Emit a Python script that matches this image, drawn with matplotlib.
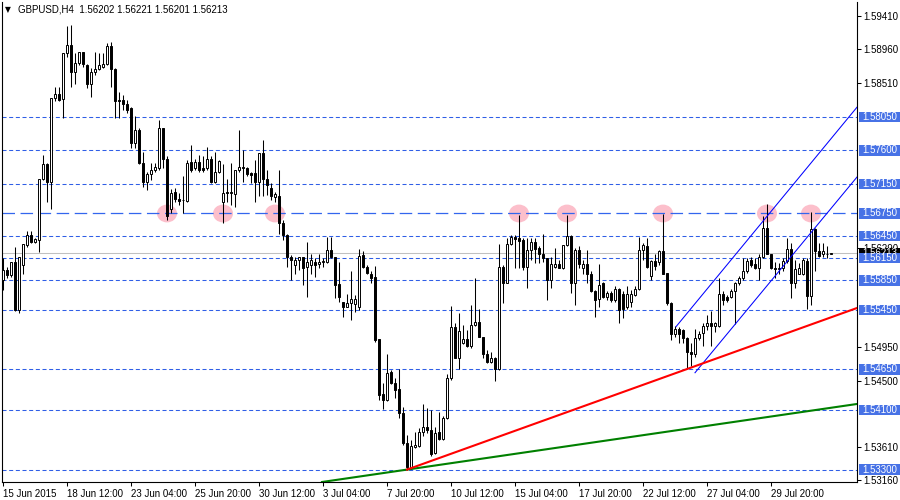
import matplotlib
matplotlib.use("Agg")
import matplotlib.pyplot as plt
import numpy as np
from matplotlib.patches import Ellipse, Rectangle
from matplotlib.transforms import blended_transform_factory

plt.rcParams['font.family'] = ['Liberation Sans', 'DejaVu Sans']
plt.rcParams['lines.scale_dashes'] = False

# GBPUSD H4 candles, 15 Jun 20:00 .. 31 Jul 2015
opens = [
    1.5585, 1.5599, 1.5592, 1.5610, 1.5545, 1.5606, 1.5632, 1.5646, 1.5637, 1.5639,
    1.5721, 1.5742, 1.5718, 1.5830, 1.5836, 1.5829, 1.5891, 1.5902, 1.5865, 1.5878,
    1.5893, 1.5875, 1.5850, 1.5865, 1.5869, 1.5872, 1.5877, 1.5900, 1.5869, 1.5828,
    1.5828, 1.5822, 1.5817, 1.5770, 1.5788, 1.5743, 1.5718, 1.5728, 1.5734, 1.5736,
    1.5790, 1.5749, 1.5681, 1.5704, 1.5694, 1.5693, 1.5692, 1.5745, 1.5736, 1.5745,
    1.5736, 1.5736, 1.5749, 1.5717, 1.5731, 1.5691, 1.5704, 1.5702, 1.5701, 1.5733,
    1.5738, 1.5736, 1.5730, 1.5729, 1.5718, 1.5756, 1.5722, 1.5709, 1.5697, 1.5699,
    1.5662, 1.5646, 1.5616, 1.5606, 1.5612, 1.5616, 1.5603, 1.5606, 1.5609, 1.5607,
    1.5610, 1.5610, 1.5626, 1.5617, 1.5580, 1.5556, 1.5549, 1.5555, 1.5553, 1.5549,
    1.5619, 1.5603, 1.5594, 1.5589, 1.5506, 1.5432, 1.5424, 1.5462, 1.5447, 1.5439,
    1.5406, 1.5366, 1.5334, 1.5361, 1.5362, 1.5380, 1.5387, 1.5384, 1.5353, 1.5380,
    1.5371, 1.5399, 1.5453, 1.5522, 1.5481, 1.5501, 1.5506, 1.5496, 1.5525, 1.5529,
    1.5509, 1.5486, 1.5475, 1.5481, 1.5465, 1.5603, 1.5582, 1.5634, 1.5643, 1.5642,
    1.5639, 1.5603, 1.5626, 1.5636, 1.5628, 1.5621, 1.5615, 1.5585, 1.5603, 1.5607,
    1.5601, 1.5633, 1.5645, 1.5581, 1.5626, 1.5601, 1.5607, 1.5594, 1.5570, 1.5560,
    1.5581, 1.5562, 1.5568, 1.5558, 1.5573, 1.5567, 1.5549, 1.5556, 1.5565, 1.5573,
    1.5626, 1.5631, 1.5591, 1.5611, 1.5610, 1.5624, 1.5595, 1.5554, 1.5513, 1.5519,
    1.5518, 1.5507, 1.5489, 1.5486, 1.5507, 1.5514, 1.5523, 1.5528, 1.5523, 1.5523,
    1.5567, 1.5563, 1.5562, 1.5570, 1.5581, 1.5588, 1.5597, 1.5612, 1.5607, 1.5602,
    1.5616, 1.5655, 1.5621, 1.5601, 1.5600, 1.5601, 1.5611, 1.5627, 1.5582, 1.5594,
    1.5594, 1.5611, 1.5564, 1.5654, 1.5624, 1.5621, 1.5621, 1.56202]
highs = [
    1.5615, 1.5603, 1.5610, 1.5630, 1.5616, 1.5634, 1.5651, 1.5651, 1.5642, 1.5721,
    1.5754, 1.5743, 1.5830, 1.5846, 1.5846, 1.5891, 1.5928, 1.5929, 1.5891, 1.5892,
    1.5893, 1.5877, 1.5871, 1.5893, 1.5891, 1.5891, 1.5904, 1.5906, 1.5871, 1.5839,
    1.5835, 1.5828, 1.5818, 1.5806, 1.5790, 1.5758, 1.5731, 1.5743, 1.5743, 1.5801,
    1.5790, 1.5752, 1.5708, 1.5709, 1.5702, 1.5725, 1.5747, 1.5767, 1.5748, 1.5754,
    1.5752, 1.5765, 1.5752, 1.5758, 1.5747, 1.5742, 1.5721, 1.5743, 1.5733, 1.5787,
    1.5760, 1.5738, 1.5731, 1.5747, 1.5757, 1.5774, 1.5733, 1.5716, 1.5704, 1.5733,
    1.5666, 1.5648, 1.5619, 1.5617, 1.5617, 1.5617, 1.5637, 1.5621, 1.5615, 1.5621,
    1.5615, 1.5643, 1.5643, 1.5617, 1.5610, 1.5556, 1.5567, 1.5597, 1.5565, 1.5627,
    1.5625, 1.5606, 1.5597, 1.5604, 1.5506, 1.5446, 1.5486, 1.5464, 1.5453, 1.5466,
    1.5414, 1.5377, 1.5370, 1.5381, 1.5386, 1.5419, 1.5413, 1.5410, 1.5388, 1.5408,
    1.5402, 1.5459, 1.5550, 1.5527, 1.5541, 1.5525, 1.5518, 1.5552, 1.5588, 1.5547,
    1.5509, 1.5491, 1.5489, 1.5482, 1.5634, 1.5606, 1.5642, 1.5646, 1.5646, 1.5673,
    1.5642, 1.5642, 1.5642, 1.5642, 1.5631, 1.5648, 1.5615, 1.5617, 1.5628, 1.5612,
    1.5633, 1.5673, 1.5646, 1.5628, 1.5631, 1.5612, 1.5626, 1.5597, 1.5572, 1.5607,
    1.5583, 1.5570, 1.5570, 1.5577, 1.5574, 1.5570, 1.5577, 1.5572, 1.5577, 1.5644,
    1.5635, 1.5642, 1.5612, 1.5621, 1.5626, 1.5674, 1.5595, 1.5556, 1.5523, 1.5522,
    1.5520, 1.5508, 1.5500, 1.5519, 1.5517, 1.5527, 1.5538, 1.5543, 1.5529, 1.5588,
    1.5570, 1.5565, 1.5573, 1.5583, 1.5591, 1.5615, 1.5615, 1.5616, 1.5615, 1.5620,
    1.5671, 1.5688, 1.5621, 1.5610, 1.5608, 1.5615, 1.5642, 1.5635, 1.5612, 1.5608,
    1.5615, 1.5615, 1.5677, 1.5656, 1.5635, 1.5635, 1.5631, 1.56221]
lows = [
    1.5572, 1.5588, 1.5590, 1.5543, 1.5541, 1.5594, 1.5630, 1.5635, 1.5635, 1.5623,
    1.5720, 1.5690, 1.5681, 1.5826, 1.5826, 1.5803, 1.5886, 1.5846, 1.5850, 1.5875,
    1.5873, 1.5844, 1.5832, 1.5862, 1.5868, 1.5871, 1.5875, 1.5846, 1.5803, 1.5803,
    1.5814, 1.5811, 1.5763, 1.5763, 1.5741, 1.5711, 1.5707, 1.5720, 1.5731, 1.5734,
    1.5736, 1.5666, 1.5675, 1.5691, 1.5687, 1.5675, 1.5691, 1.5731, 1.5733, 1.5731,
    1.5731, 1.5733, 1.5716, 1.5716, 1.5729, 1.5662, 1.5691, 1.5687, 1.5684, 1.5731,
    1.5718, 1.5725, 1.5716, 1.5691, 1.5698, 1.5698, 1.5700, 1.5693, 1.5691, 1.5648,
    1.5639, 1.5603, 1.5585, 1.5594, 1.5599, 1.5579, 1.5563, 1.5594, 1.5590, 1.5601,
    1.5603, 1.5608, 1.5615, 1.5561, 1.5556, 1.5536, 1.5549, 1.5531, 1.5542, 1.5545,
    1.5601, 1.5594, 1.5582, 1.5502, 1.5424, 1.5411, 1.5423, 1.5445, 1.5426, 1.5399,
    1.5363, 1.5330, 1.5332, 1.5359, 1.5361, 1.5375, 1.5379, 1.5348, 1.5351, 1.5370,
    1.5370, 1.5398, 1.5451, 1.5480, 1.5465, 1.5499, 1.5495, 1.5494, 1.5523, 1.5508,
    1.5480, 1.5474, 1.5473, 1.5450, 1.5464, 1.5554, 1.5581, 1.5633, 1.5601, 1.5601,
    1.5599, 1.5574, 1.5612, 1.5608, 1.5608, 1.5610, 1.5559, 1.5574, 1.5602, 1.5602,
    1.5600, 1.5631, 1.5568, 1.5552, 1.5602, 1.5594, 1.5581, 1.5569, 1.5536, 1.5549,
    1.5561, 1.5559, 1.5556, 1.5556, 1.5527, 1.5534, 1.5547, 1.5549, 1.5564, 1.5572,
    1.5612, 1.5601, 1.5585, 1.5599, 1.5606, 1.5593, 1.5552, 1.5504, 1.5509, 1.5500,
    1.5500, 1.5466, 1.5469, 1.5482, 1.5505, 1.5496, 1.5518, 1.5496, 1.5516, 1.5522,
    1.5552, 1.5556, 1.5561, 1.5526, 1.5579, 1.5586, 1.5595, 1.5603, 1.5600, 1.5586,
    1.5615, 1.5620, 1.5600, 1.5588, 1.5594, 1.5598, 1.5608, 1.5561, 1.5574, 1.5593,
    1.5592, 1.5547, 1.5552, 1.5597, 1.5616, 1.5616, 1.5615, 1.56201]
closes = [
    1.5599, 1.5592, 1.5609, 1.5545, 1.5616, 1.5634, 1.5646, 1.5637, 1.5640, 1.5721,
    1.5742, 1.5718, 1.5830, 1.5836, 1.5828, 1.5891, 1.5902, 1.5865, 1.5878, 1.5892,
    1.5877, 1.5850, 1.5866, 1.5869, 1.5875, 1.5877, 1.5900, 1.5869, 1.5826, 1.5826,
    1.5822, 1.5815, 1.5770, 1.5788, 1.5743, 1.5718, 1.5728, 1.5734, 1.5738, 1.5790,
    1.5749, 1.5671, 1.5703, 1.5694, 1.5692, 1.5693, 1.5743, 1.5734, 1.5745, 1.5733,
    1.5733, 1.5749, 1.5718, 1.5731, 1.5746, 1.5703, 1.5702, 1.5704, 1.5733, 1.5738,
    1.5736, 1.5728, 1.5727, 1.5718, 1.5756, 1.5722, 1.5713, 1.5698, 1.5701, 1.5662,
    1.5646, 1.5616, 1.5613, 1.5613, 1.5616, 1.5601, 1.5610, 1.5612, 1.5606, 1.5609,
    1.5611, 1.5626, 1.5617, 1.5579, 1.5563, 1.5549, 1.5555, 1.5560, 1.5560, 1.5618,
    1.5603, 1.5595, 1.5588, 1.5504, 1.5431, 1.5424, 1.5460, 1.5446, 1.5437, 1.5406,
    1.5366, 1.5334, 1.5362, 1.5363, 1.5381, 1.5387, 1.5384, 1.5351, 1.5379, 1.5371,
    1.5399, 1.5454, 1.5522, 1.5481, 1.5517, 1.5506, 1.5496, 1.5525, 1.5529, 1.5509,
    1.5486, 1.5475, 1.5481, 1.5465, 1.5603, 1.5582, 1.5634, 1.5643, 1.5640, 1.5638,
    1.5603, 1.5626, 1.5636, 1.5627, 1.5621, 1.5615, 1.5585, 1.5607, 1.5607, 1.5602,
    1.5633, 1.5645, 1.5581, 1.5626, 1.5607, 1.5607, 1.5594, 1.5570, 1.5559, 1.5579,
    1.5563, 1.5568, 1.5558, 1.5573, 1.5545, 1.5546, 1.5567, 1.5567, 1.5573, 1.5626,
    1.5633, 1.5603, 1.5611, 1.5604, 1.5624, 1.5594, 1.5554, 1.5512, 1.5519, 1.5512,
    1.5507, 1.5489, 1.5486, 1.5507, 1.5512, 1.5523, 1.5528, 1.5523, 1.5527, 1.5567,
    1.5559, 1.5559, 1.5571, 1.5582, 1.5588, 1.5598, 1.5611, 1.5606, 1.5601, 1.5616,
    1.5655, 1.5621, 1.5601, 1.5600, 1.5602, 1.5611, 1.5627, 1.5582, 1.5600, 1.5601,
    1.5612, 1.5564, 1.5654, 1.5624, 1.5618, 1.5624, 1.5620, 1.56213]

# time axis labels (bar index -> label)
time_ticks = [0, 16, 32, 48, 64, 80, 96, 112, 128, 144, 160, 176, 192]
time_labels = ['15 Jun 2015', '18 Jun 12:00', '23 Jun 04:00', '25 Jun 20:00',
               '30 Jun 12:00', '3 Jul 04:00', '7 Jul 20:00', '10 Jul 12:00',
               '15 Jul 04:00', '17 Jul 20:00', '22 Jul 12:00', '27 Jul 04:00',
               '29 Jul 20:00']

# price scale labels that are not covered by a line label
price_ticks = [1.59410, 1.58960, 1.58510, 1.56290, 1.54950, 1.54500, 1.53610, 1.53160]

# horizontal levels
dot_levels = [1.58050, 1.57600, 1.57150, 1.56450, 1.56150, 1.55850,
              1.55450, 1.54650, 1.54100, 1.53300]
key_level = 1.56750
bid = 1.56213
# bars touching the key level (marked with pink ellipses)
touch_bars = [41, 55, 68, 129, 141, 165, 191, 202]

# trend lines: (bar, price) anchors
red_line = [(101, 1.5330), (213.5, 1.55477)]
green_line = [(101, 1.5330), (213.5, 1.54184)]
chan_upper = [(168.25, 1.55225), (213.5, 1.58182)]
chan_lower = [(173, 1.54605), (213.5, 1.57241)]

n = len(opens)
assert n == len(highs) == len(lows) == len(closes)
o = np.array(opens); h = np.array(highs); l = np.array(lows); c = np.array(closes)
xs = np.arange(n)

fig = plt.figure(figsize=(9, 5), dpi=100)
fig.patch.set_facecolor('white')
ax = fig.add_axes([2/900, 18/500, 855/900, 480/500])
ax.set_xlim(-0.25, 213.5)
ax.set_ylim(1.53133, 1.59599)

line_blue = '#2f5ee6'
box_blue = '#4772e6'

for p in dot_levels:
    ax.axhline(p, color=line_blue, lw=0.75, linestyle=(0, (2.9, 1.9)), zorder=1)
ax.axhline(key_level, color='#3366ee', lw=0.9, linestyle=(0, (9, 4)), zorder=1)
ax.axhline(bid, color='#c0c0c0', lw=0.75, zorder=1)

for b in touch_bars:
    ax.add_patch(Ellipse((b, key_level), 5.0, 0.0024, facecolor='#fcbfcb',
                         edgecolor='none', zorder=0.5))

# candles
ax.vlines(xs, l, h, color='black', lw=0.75, zorder=2)
bull = c >= o
body_lo = np.minimum(o, c)
body_h = np.maximum(np.abs(c - o), 0.00002)
ax.bar(xs[bull], body_h[bull], bottom=body_lo[bull], width=0.55, color='white',
       edgecolor='black', linewidth=0.7, zorder=3)
ax.bar(xs[~bull], body_h[~bull], bottom=body_lo[~bull], width=0.55, color='black',
       edgecolor='black', linewidth=0.7, zorder=3)

# trend lines / channel
ax.plot(*zip(*chan_upper), color='blue', lw=0.75, zorder=4)
ax.plot(*zip(*chan_lower), color='blue', lw=0.75, zorder=4)
ax.axline(green_line[0], green_line[1], color='#008000', lw=1.5, zorder=4)
ax.plot(*zip(*red_line), color='red', lw=1.5, zorder=4)

# axes styling
ax.spines['top'].set_visible(False)
for s in ['left', 'right', 'bottom']:
    ax.spines[s].set_linewidth(0.8)
ax.yaxis.tick_right()
ax.set_yticks(price_ticks)
ax.set_yticklabels([f'{v:.5f}' for v in price_ticks])
ax.tick_params(axis='y', direction='out', length=3, width=0.75, pad=1.5, labelsize=7)
ax.set_xticks(time_ticks)
ax.set_xticklabels(time_labels, ha='left')
ax.tick_params(axis='x', direction='out', length=3, width=0.75, pad=2, labelsize=7)

# price labels on the right
tr = blended_transform_factory(ax.transAxes, ax.transData)
box_h = 0.00140
def price_box(p, fc, z):
    ax.add_patch(Rectangle((1 + 2/855, p - box_h/2), 41/855, box_h, transform=tr,
                           facecolor=fc, edgecolor='none', clip_on=False, zorder=z))
    ax.text(1 + 5/855, p, f'{p:.5f}', transform=tr, color='white', fontsize=7,
            va='center', ha='left', clip_on=False, zorder=z + 0.1)

price_box(bid, 'black', 5)
for p in dot_levels + [key_level]:
    price_box(p, box_blue, 6)

fig.text(5/900, 1 - 10/500, '\u25bc', fontsize=5.5, va='center', ha='left',
         family=['DejaVu Sans'])
fig.text(18/900, 1 - 10/500, 'GBPUSD,H4  1.56202 1.56221 1.56201 1.56213',
         fontsize=7, va='center', ha='left')

fig.savefig('out.png', dpi=100)
